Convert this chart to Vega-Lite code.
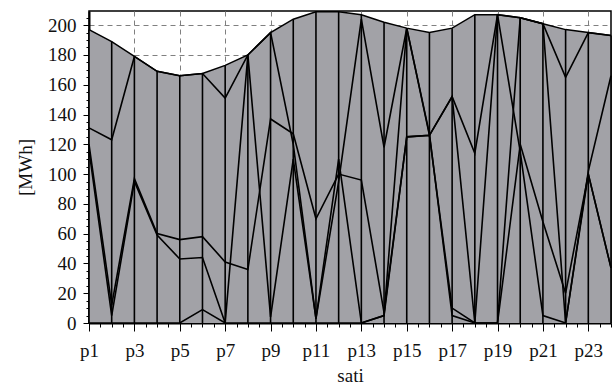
{
  "$schema": "https://vega.github.io/schema/vega-lite/v6.json",
  "autosize": {"type": "none"},
  "padding": {"left": 89, "top": 11, "right": 2, "bottom": 65},
  "width": 522,
  "height": 312,
  "background": "white",
  "config": {
    "view": {"stroke": "black", "strokeWidth": 1.5},
    "axis": {
      "labelFont": "Liberation Serif",
      "labelFontSize": 19,
      "labelColor": "#111",
      "titleFont": "Liberation Serif",
      "titleFontSize": 19,
      "titleFontWeight": "normal",
      "titleColor": "#111",
      "domainColor": "black",
      "domainWidth": 2,
      "tickColor": "black",
      "gridColor": "#808080",
      "gridDash": [5, 4],
      "gridWidth": 1
    }
  },
  "datasets": {
    "top": [
      {"p": 1, "total": 197}, {"p": 2, "total": 189}, {"p": 3, "total": 179}, {"p": 4, "total": 169},
      {"p": 5, "total": 166}, {"p": 6, "total": 167.5}, {"p": 7, "total": 173}, {"p": 8, "total": 180},
      {"p": 9, "total": 195}, {"p": 10, "total": 204}, {"p": 11, "total": 209}, {"p": 12, "total": 209},
      {"p": 13, "total": 207}, {"p": 14, "total": 202}, {"p": 15, "total": 198}, {"p": 16, "total": 195},
      {"p": 17, "total": 198}, {"p": 18, "total": 207}, {"p": 19, "total": 207}, {"p": 20, "total": 205},
      {"p": 21, "total": 201}, {"p": 22, "total": 197}, {"p": 23, "total": 195}, {"p": 24, "total": 193}
    ],
    "lines": [
      {"p": 1, "s": "A", "v": 131}, {"p": 2, "s": "A", "v": 123}, {"p": 3, "s": "A", "v": 179}, {"p": 4, "s": "A", "v": 169},
      {"p": 5, "s": "A", "v": 166}, {"p": 6, "s": "A", "v": 167.5}, {"p": 7, "s": "A", "v": 151}, {"p": 8, "s": "A", "v": 180},
      {"p": 9, "s": "A", "v": 195}, {"p": 10, "s": "A", "v": 120}, {"p": 11, "s": "A", "v": 3}, {"p": 12, "s": "A", "v": 95},
      {"p": 13, "s": "A", "v": 204}, {"p": 14, "s": "A", "v": 118}, {"p": 15, "s": "A", "v": 198}, {"p": 16, "s": "A", "v": 127},
      {"p": 17, "s": "A", "v": 5}, {"p": 18, "s": "A", "v": 0}, {"p": 19, "s": "A", "v": 207}, {"p": 20, "s": "A", "v": 115},
      {"p": 21, "s": "A", "v": 5}, {"p": 22, "s": "A", "v": 0}, {"p": 23, "s": "A", "v": 100}, {"p": 24, "s": "A", "v": 37},

      {"p": 1, "s": "B", "v": 120}, {"p": 2, "s": "B", "v": 12}, {"p": 3, "s": "B", "v": 97}, {"p": 4, "s": "B", "v": 60},
      {"p": 5, "s": "B", "v": 56}, {"p": 6, "s": "B", "v": 58}, {"p": 7, "s": "B", "v": 41}, {"p": 8, "s": "B", "v": 36},
      {"p": 9, "s": "B", "v": 137}, {"p": 10, "s": "B", "v": 127}, {"p": 11, "s": "B", "v": 70}, {"p": 12, "s": "B", "v": 100},
      {"p": 13, "s": "B", "v": 96}, {"p": 14, "s": "B", "v": 7}, {"p": 15, "s": "B", "v": 125}, {"p": 16, "s": "B", "v": 126},
      {"p": 17, "s": "B", "v": 152}, {"p": 18, "s": "B", "v": 114}, {"p": 19, "s": "B", "v": 207}, {"p": 20, "s": "B", "v": 205},
      {"p": 21, "s": "B", "v": 201}, {"p": 22, "s": "B", "v": 165}, {"p": 23, "s": "B", "v": 195}, {"p": 24, "s": "B", "v": 193},

      {"p": 1, "s": "C", "v": 116}, {"p": 2, "s": "C", "v": 5}, {"p": 3, "s": "C", "v": 95}, {"p": 4, "s": "C", "v": 59},
      {"p": 5, "s": "C", "v": 43}, {"p": 6, "s": "C", "v": 44}, {"p": 7, "s": "C", "v": 0}, {"p": 8, "s": "C", "v": 180},
      {"p": 9, "s": "C", "v": 4}, {"p": 10, "s": "C", "v": 110}, {"p": 11, "s": "C", "v": 3}, {"p": 12, "s": "C", "v": 110},
      {"p": 13, "s": "C", "v": 0}, {"p": 14, "s": "C", "v": 5}, {"p": 15, "s": "C", "v": 198}, {"p": 16, "s": "C", "v": 126},
      {"p": 17, "s": "C", "v": 152}, {"p": 18, "s": "C", "v": 0}, {"p": 19, "s": "C", "v": 0}, {"p": 20, "s": "C", "v": 205},
      {"p": 21, "s": "C", "v": 201}, {"p": 22, "s": "C", "v": 0}, {"p": 23, "s": "C", "v": 102}, {"p": 24, "s": "C", "v": 166},

      {"p": 1, "s": "D", "v": 0}, {"p": 2, "s": "D", "v": 0}, {"p": 3, "s": "D", "v": 0}, {"p": 4, "s": "D", "v": 0},
      {"p": 5, "s": "D", "v": 0}, {"p": 6, "s": "D", "v": 9}, {"p": 7, "s": "D", "v": 0}, {"p": 8, "s": "D", "v": 0},
      {"p": 9, "s": "D", "v": 0}, {"p": 10, "s": "D", "v": 0}, {"p": 11, "s": "D", "v": 0}, {"p": 12, "s": "D", "v": 0},
      {"p": 13, "s": "D", "v": 0}, {"p": 14, "s": "D", "v": 5}, {"p": 15, "s": "D", "v": 125}, {"p": 16, "s": "D", "v": 126},
      {"p": 17, "s": "D", "v": 10}, {"p": 18, "s": "D", "v": 0}, {"p": 19, "s": "D", "v": 0}, {"p": 20, "s": "D", "v": 120},
      {"p": 21, "s": "D", "v": 68}, {"p": 22, "s": "D", "v": 20}, {"p": 23, "s": "D", "v": 100}, {"p": 24, "s": "D", "v": 37}
    ]
  },
  "layer": [
    {
      "data": {"name": "top"},
      "mark": {"type": "area", "color": "#a2a2a7", "opacity": 1, "line": {"color": "black", "strokeWidth": 1.5}},
      "encoding": {
        "x": {
          "field": "p", "type": "quantitative",
          "scale": {"domain": [1, 24], "nice": false, "zero": false},
          "axis": {
            "title": "sati",
            "titlePadding": 6,
            "tickCount": 200,
            "values": [1,1.5,2,2.5,3,3.5,4,4.5,5,5.5,6,6.5,7,7.5,8,8.5,9,9.5,10,10.5,11,11.5,12,12.5,13,13.5,14,14.5,15,15.5,16,16.5,17,17.5,18,18.5,19,19.5,20,20.5,21,21.5,22,22.5,23,23.5,24],
            "labelExpr": "datum.value % 2 == 1 ? 'p' + datum.value : ''",
            "labelPadding": 10,
            "labelFlush": false,
            "labelOverlap": false,
            "tickSize": {"condition": {"test": "datum.value % 2 == 1", "value": 8}, "value": 4},
            "tickWidth": 1,
            "grid": true,
            "gridOpacity": {"condition": {"test": "datum.value % 2 == 1 && datum.value > 1", "value": 1}, "value": 0}
          }
        },
        "y": {
          "field": "total", "type": "quantitative",
          "scale": {"domain": [0, 209.5], "nice": false},
          "axis": {
            "title": "[MWh]",
            "titlePadding": 12,
            "tickCount": 200,
            "values": [0,5,10,15,20,25,30,35,40,45,50,55,60,65,70,75,80,85,90,95,100,105,110,115,120,125,130,135,140,145,150,155,160,165,170,175,180,185,190,195,200,205],
            "labelExpr": "datum.value % 20 == 0 ? datum.value : ''",
            "labelPadding": 7,
            "labelFlush": false,
            "labelOverlap": false,
            "tickSize": {"condition": {"test": "datum.value % 20 == 0", "value": 6}, "value": 3},
            "tickWidth": 1,
            "grid": true,
            "gridOpacity": {"condition": {"test": "datum.value % 20 == 0 && datum.value > 0", "value": 1}, "value": 0}
          }
        }
      }
    },
    {
      "data": {"name": "top"},
      "mark": {"type": "rule", "color": "black", "strokeWidth": 1.6},
      "encoding": {
        "x": {"field": "p", "type": "quantitative"},
        "y": {"field": "total", "type": "quantitative"},
        "y2": {"datum": 0}
      }
    },
    {
      "data": {"name": "lines"},
      "mark": {"type": "line", "color": "black", "strokeWidth": 1.6},
      "encoding": {
        "x": {"field": "p", "type": "quantitative"},
        "y": {"field": "v", "type": "quantitative"},
        "detail": {"field": "s"}
      }
    }
  ]
}
